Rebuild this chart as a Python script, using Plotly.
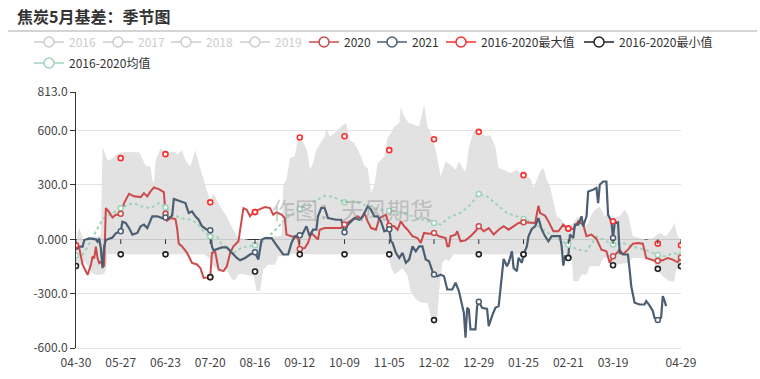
import plotly.graph_objects as go
import pandas as pd

# ---------------- categories (season axis: 04-30 .. 04-29, incl. 02-29) ----------------
dates = pd.date_range("2019-04-30", "2020-04-29")
categories = [d.strftime("%m-%d") for d in dates]
tick_days = list(range(0, 352, 27)) + [365]
label_days = [d for d in tick_days if d != 351]

# ---------------- series (day index on the season axis, value) ----------------
s2020_day = [0, 2, 4, 7, 9, 10, 11, 12, 13, 14, 15, 17, 18, 20, 22, 24, 26, 27, 29, 32, 35, 39, 41, 43, 45, 47, 50, 52, 53,
             54, 55, 57, 60, 61, 62, 64, 67, 70, 73, 75, 77, 81, 82, 84, 86, 89, 91, 93, 95, 98, 100, 101, 103, 105, 107,
             108, 110, 114, 117, 119, 121, 124, 126, 127, 130, 134, 135, 138, 140, 142, 144, 146, 147, 150, 154, 160, 162,
             165, 168, 170, 172, 174, 176, 178, 181, 183, 187, 189, 192, 194, 196, 198, 200, 203, 206, 208, 210, 213, 216,
             219, 223, 224, 225, 226, 229, 230, 232, 235, 238, 241, 243, 246, 249, 252, 255, 258, 261, 264, 267, 270, 274,
             277, 279, 280, 283, 285, 288, 291, 294, 296, 297, 300, 303, 306, 308, 311, 314, 317, 320, 322, 324, 326, 328,
             330, 333, 336, 339, 342, 344, 347, 350, 351, 354, 357, 360, 363, 365]
s2020_val = [-40, -50, -140, -196, -141, -95, -105, -40, -105, -132, -125, -150, 172, 150, 120, 136, 135, 141, 200, 251, 237,
             233, 255, 237, 264, 286, 277, 264, 260, 141, 103, 117, 112, 60, -24, -39, -75, -130, -139, -158, -213, -209,
             -75, -70, -167, -176, -149, -75, -39, -11, 108, 172, 163, 127, 149, 150, 163, 178, 172, 136, 149, 136, 117,
             26, 17, 7, -53, -48, -20, 35, 17, -2, 53, 62, 62, 62, 81, 99, 117, 127, 112, 145, 99, 62, 53, 117, 136, 75,
             72, 53, 99, 72, 53, 17, 7, -20, 35, 31, 35, 17, 7, -39, -39, 17, 26, 44, -11, -6, 17, 44, 72, 44, 62, 26,
             53, 72, 53, 72, 90, 94, 94, 90, 185, 145, 130, 99, 44, 44, 81, 62, 59, 57, 99, 81, 17, 26, 2, -57, -66,
             -130, -94, -79, -57, -84, -57, -24, -20, -24, -103, -112, -121, -118, -116, -103, -112, -127, -100]

s2021_day = [0, 4, 5, 8, 12, 13, 14, 15, 16, 17, 18, 20, 22, 24, 27, 28, 30, 32, 34, 37, 39, 41, 43, 46, 49, 52, 54,
             56, 58, 59, 63, 66, 68, 70, 72, 74, 76, 79, 81, 82, 83, 86, 88, 91, 94, 97, 99, 102, 105, 108, 110, 112, 114,
             118, 120, 122, 125, 128, 130, 132, 135, 136, 139, 141, 143, 145, 146, 148, 150, 152, 157, 160, 162, 164, 166,
             168, 171, 173, 176, 178, 180, 182, 184, 186, 189, 190, 191, 193, 195, 197, 199, 201, 203, 205, 207, 209, 211,
             213, 215, 216, 218, 220, 222, 224, 227, 229, 231, 233, 234, 235, 236, 237, 238, 241, 242, 243, 245, 248, 249,
             251, 253, 255, 256, 258, 260, 261, 263, 264, 266, 267, 269, 270, 272, 273, 275, 277, 279, 281, 283, 285, 287,
             292, 293, 294, 295, 297, 298, 300, 301, 303, 305, 306, 308, 309, 312, 314, 315, 316, 318, 320, 321, 323, 324,
             325, 327, 328, 331, 333, 334, 335, 336, 337, 340, 343, 344, 346, 348, 349, 351, 353, 354, 355, 356]
s2021_val = [-40, -40, -4, 5, 0, -13, 5, -50, -160, -40, -4, 5, 10, 33, 45, 97, 90, 62, 26, 35, 72, 81, 62, 127, 127,
             117, 120, 117, 130, 222, 209, 200, 145, 154, 127, 108, 72, 53, 50, -40, -61, -53, -45, -45, -75, -103, -116,
             -103, -84, -72, -112, -2, 7, 7, -20, -48, -84, -84, -20, 17, 22, 17, 72, 17, 53, 53, 127, 173, 173, 117, 108,
             108, 39, 81, 99, 117, 108, 127, 182, 163, 127, 127, 99, 44, 55, -11, -20, -75, -103, -75, -130, -112, -39,
             -66, -39, -39, -112, -121, -176, -195, -204, -195, -204, -277, -277, -240, -286, -378, -406, -543, -378, -387,
             -497, -497, -369, -345, -378, -384, -479, -424, -378, -369, -277, -108, -149, -130, -66, -158, -176, -103,
             -130, -84, -39, 17, 57, 72, 117, 53, 17, -11, 17, 17, -39, -145, -94, -100, 26, 7, 81, 81, 127, 72, 127,
             264, 273, 283, 200, 301, 319, 319, 136, 99, 7, 90, 94, -75, -84, -84, -167, -259, -305, -350, -360, -360,
             -341, -365, -396, -433, -446, -433, -314, -336, -369]

mean_day = [0, 4, 7, 10, 13, 16, 21, 27, 31, 35, 39, 45, 50, 54, 57, 63, 69, 73, 77, 81, 85, 88, 92, 95, 100, 108, 113, 119,
            123, 127, 135, 140, 145, 150, 155, 162, 168, 174, 178, 183, 189, 197, 206, 216, 220, 226, 232, 238, 243, 248,
            254, 260, 266, 270, 276, 282, 288, 297, 302, 308, 314, 318, 324, 330, 336, 344, 351, 356, 360, 365]
mean_val = [-90, -85, -40, 10, 60, 110, 140, 172, 191, 200, 182, 172, 200, 176, 145, 117, 108, 90, 44, 15, 17, -29, -50, -75,
            -45, -33, -10, 40, 80, 117, 169, 190, 215, 240, 235, 204, 210, 190, 180, 165, 158, 145, 117, 90, 81, 127, 145,
            191, 250, 237, 191, 145, 127, 112, 90, 53, 17, -30, -55, -65, 15, 0, -29, -20, -40, -60, -86, -95, -75, -88]

band_hi_day = [0, 1, 2, 3, 5, 8, 10, 13, 15, 16, 19, 21, 25, 29, 35, 38, 39, 42, 45, 46, 47, 48, 51, 55, 59, 61, 64, 66,
               69, 72, 74, 77, 79, 81, 83, 87, 91, 95, 98, 102, 108, 115, 120, 124, 125, 127, 129, 132, 134, 136, 138, 140,
               141, 143, 145, 147, 150, 151, 153, 156, 158, 161, 163, 165, 168, 170, 172, 174, 176, 178, 180, 182, 184, 186,
               188, 190, 192, 195, 196, 198, 201, 204, 207, 209, 210, 212, 214, 217, 220, 223, 226, 229, 231, 234, 235, 237,
               240, 243, 247, 250, 253, 255, 258, 262, 266, 270, 274, 276, 280, 282, 284, 286, 288, 290, 293, 296, 298, 300,
               303, 306, 309, 311, 313, 316, 319, 321, 323, 325, 328, 331, 333, 336, 340, 344, 348, 352, 356, 359, 361, 363,
               365]
band_hi_val = [-30, 40, 60, 40, -10, 0, 15, 15, 20, 510, 436, 440, 470, 482, 482, 480, 465, 408, 400, 330, 308, 436, 500,
               480, 482, 470, 491, 436, 400, 491, 420, 330, 260, 210, 253, 180, 125, 50, 10, 0, -10, 10, 15, 20, 300, 328,
               448, 460, 560, 550, 521, 466, 384, 420, 494, 521, 567, 613, 567, 585, 604, 631, 640, 549, 530, 494, 457, 402,
               393, 255, 300, 420, 440, 457, 560, 585, 622, 640, 732, 677, 640, 631, 622, 700, 741, 622, 585, 494, 347, 429,
               411, 384, 429, 384, 372, 503, 604, 607, 567, 576, 512, 393, 384, 365, 384, 347, 338, 283, 374, 393, 328, 292,
               218, 127, 108, 53, 72, 90, 127, 62, 90, 136, 163, 182, 127, 145, 99, 117, 127, 163, 136, 17, 7, -2, 7, 35, 17,
               53, 90, 17, 0]

band_lo_day = [0, 3, 5, 7, 10, 13, 15, 17, 18, 19, 77, 80, 83, 88, 91, 94, 96, 98, 100, 104, 107, 109, 111, 113, 116, 120,
               122, 125, 126, 188, 190, 192, 194, 197, 200, 202, 205, 208, 212, 214, 216, 218, 219, 221, 223, 225, 227, 228,
               296, 299, 300, 303, 305, 308, 310, 316, 318, 323, 324, 333, 336, 342, 344, 348, 350, 354, 358, 361, 362, 365]
band_lo_val = [-145, -141, -120, -150, -190, -196, -196, -190, -170, -83, -83, -100, -150, -167, -169, -222, -224, -195,
               -190, -200, -200, -286, -286, -167, -140, -140, -94, -94, -83, -83, -150, -195, -180, -160, -200, -290, -330,
               -350, -350, -424, -446, -424, -295, -130, -110, -121, -94, -83, -83, -100, -231, -231, -195, -195, -149, -149,
               -103, -103, -143, -130, -103, -103, -110, -112, -163, -204, -231, -231, -167, -149]

# 2016-2020 max / min at the labelled category positions
max_val = [-33, 448, 470, 204, 150, 562, 569, 492, 552, 593, 354, 59, 99, -24, -33]
min_val = [-147, -83, -83, -209, -178, -83, -83, -83, -446, -83, -83, -103, -143, -163, -149]

y_tickvals = [-600, -300, 0, 300, 600, 813]
y_ticktext = ["-600.0", "-300.0", "0.000", "300.0", "600.0", "813.0"]

# ---------------- styles ----------------
C2020 = "#cc4a4a"
C2021 = "#4b5e72"
CMAX = "#ff2e2e"
CMIN = "#222222"
CMEAN = "#9fd3b9"
CGRAY = "#cccccc"
FONT = "Noto Sans CJK SC"
W, H = 760, 379
PL, PR, PT, PB = 76, 79, 92, 31
PW, PH = W - PL - PR, H - PT - PB


def px_x(sx):  # pixel x -> paper
    return (sx - PL) / PW


def px_y(sy):  # pixel y -> paper
    return (H - PB - sy) / PH


fig = go.Figure()

# shaded range band
fig.add_trace(go.Scatter(
    x=band_hi_day + band_lo_day[::-1], y=band_hi_val + band_lo_val[::-1],
    fill="toself", fillcolor="rgba(222,222,222,0.88)", mode="lines", line=dict(width=0),
    showlegend=False, hoverinfo="skip"))


def at_ticks(days, vals):
    pairs = [(d, v) for d, v in zip(days, vals) if d in tick_days]
    return [p[0] for p in pairs], [p[1] for p in pairs]


fig.add_trace(go.Scatter(x=mean_day, y=mean_val, mode="lines", line=dict(color=CMEAN, width=2, dash="dot"),
                         showlegend=False))
fig.add_trace(go.Scatter(x=s2020_day, y=s2020_val, mode="lines", line=dict(color=C2020, width=2),
                         showlegend=False))
fig.add_trace(go.Scatter(x=s2021_day, y=s2021_val, mode="lines", line=dict(color=C2021, width=2.2),
                         showlegend=False))

# symbols at the labelled categories
for days, vals, col in [(mean_day, mean_val, CMEAN), (s2020_day, s2020_val, C2020), (s2021_day, s2021_val, C2021)]:
    tx, ty = at_ticks(days, vals)
    fig.add_trace(go.Scatter(x=tx, y=ty, mode="markers", showlegend=False,
                             marker=dict(symbol="circle", size=5, color="white", line=dict(color=col, width=1.5))))
fig.add_trace(go.Scatter(x=tick_days, y=max_val, mode="markers", showlegend=False,
                         marker=dict(symbol="circle", size=5, color="white", line=dict(color=CMAX, width=1.6))))
fig.add_trace(go.Scatter(x=tick_days, y=min_val, mode="markers", showlegend=False,
                         marker=dict(symbol="circle", size=5, color="white", line=dict(color=CMIN, width=1.6))))

# legend entries (one legend per entry so they sit where the original puts them)
legend_items = [
    ("2016", CGRAY, True), ("2017", CGRAY, True), ("2018", CGRAY, True), ("2019", CGRAY, True),
    ("2020", C2020, False), ("2021", C2021, False), ("2016-2020最大值", CMAX, False),
    ("2016-2020最小值", CMIN, False), ("2016-2020均值", CMEAN, False),
]
legend_text_x = [70, 139, 207, 276, 345, 413, 482, 620, 70]
legend_row_y = [42, 42, 42, 42, 42, 42, 42, 42, 63]
layout_legends = {}
for k, ((name, col, dim), tx, ty) in enumerate(zip(legend_items, legend_text_x, legend_row_y)):
    key = "legend" if k == 0 else f"legend{k + 1}"
    label = f"<span style='color:{CGRAY}'>{name}</span>" if dim else name
    fig.add_trace(go.Scatter(x=[-1000], y=[-5000], mode="lines+markers", name=label, legend=key,
                             line=dict(color=col, width=1.5),
                             marker=dict(symbol="circle", size=10, color="white", line=dict(color=col, width=1.5))))
    layout_legends[key] = dict(x=(tx - 41) / W, y=1 - ty / H, xref="container", yref="container",
                               xanchor="left", yanchor="middle", bgcolor="rgba(0,0,0,0)",
                               font=dict(family=FONT, size=12, color="#333"), itemwidth=30)

# small tick marks hanging under the zero axis line
tick_shapes = [dict(type="line", xref="x", yref="y", x0=d, x1=d, y0=0, y1=-26,
                    line=dict(color="#333", width=1)) for d in tick_days]

fig.update_layout(
    width=W, height=H,
    margin=dict(l=PL, r=PR, t=PT, b=PB, autoexpand=False),
    paper_bgcolor="white", plot_bgcolor="white",
    font=dict(family=FONT, size=12, color="#333"),
    title=dict(text="<b>焦炭5月基差：季节图</b>", x=17 / W, y=1 - 17 / H, xref="container",
               yref="container", xanchor="left", yanchor="middle", font=dict(family=FONT, size=16, color="#333")),
    xaxis=dict(range=[0, 365], tickmode="array", tickvals=label_days,
               ticktext=[categories[d] for d in label_days], showgrid=False, zeroline=False,
               showline=True, linecolor="#e3e3e3", ticks="outside", ticklen=4, tickcolor="rgba(0,0,0,0)",
               tickfont=dict(size=12, color="#444")),
    yaxis=dict(range=[-600, 813], tickmode="array", tickvals=y_tickvals, ticktext=y_ticktext,
               showgrid=True, gridcolor="#e3e3e3", gridwidth=1, zeroline=True, zerolinecolor="#333",
               zerolinewidth=1, showline=True, linecolor="#333", ticks="outside", ticklen=5, tickcolor="#333",
               tickfont=dict(size=12, color="#444"), layer="above traces"),
    shapes=[dict(type="line", xref="paper", yref="paper", x0=px_x(8), x1=px_x(757),
                 y0=px_y(31), y1=px_y(31), line=dict(color="#aaaaaa", width=1))]
           + tick_shapes,
    annotations=[dict(text="作图：天风期货", x=px_x(352), y=px_y(209), xref="paper", yref="paper",
                      showarrow=False, font=dict(family=FONT, size=23, color="rgba(140,140,140,0.45)"))],
    hovermode=False,
    **layout_legends,
)

# page body margin off so the 760x379 figure fills the window exactly; no mode bar
fig.write_html("out.html", config={"displayModeBar": False},
               post_script="document.body.style.margin='0';")
